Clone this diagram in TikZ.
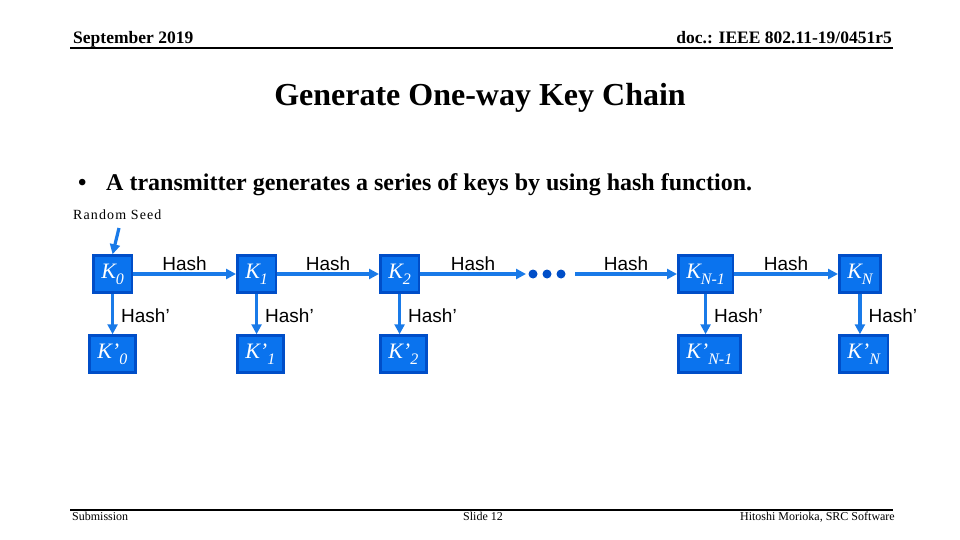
\documentclass[tikz,border=0pt]{standalone}
\usepackage{fontspec}
\setmainfont{Liberation Serif}
\newfontfamily\arialfont{Liberation Sans}
\usetikzlibrary{arrows.meta}
\definecolor{keyfill}{RGB}{10,115,238}
\definecolor{keyedge}{RGB}{0,78,200}
\definecolor{flow}{RGB}{25,122,232}
\tikzset{
  keybox/.style={draw=keyedge,line width=2.5pt,fill=keyfill,text=white,
    minimum height=37pt,inner xsep=8pt,inner ysep=0pt,anchor=west,
    font=\fontsize{22}{22}\selectfont\itshape},
  flowline/.style={draw=flow,line width=3.2pt,-{Triangle[length=10pt,width=10pt]}},
  hashlab/.style={font=\arialfont\fontsize{19}{19}\selectfont,inner sep=2pt},
  kdot/.style={circle,fill=keyedge,inner sep=0pt,minimum size=9pt}
}
\newcommand{\kk}[2]{K#1\raisebox{-6pt}{\fontsize{16}{16}\selectfont #2}}
\begin{document}
\begin{tikzpicture}[x=1pt,y=-1pt]
  \useasboundingbox (0,0) rectangle (960,540);
  % header and footer
  \draw[line width=1.2pt] (70,48) -- (893,48);
  \draw[line width=1.2pt] (70,510) -- (893,510);
  \node[anchor=base west,inner sep=0pt,font=\bfseries\fontsize{17.5}{17.5}\selectfont] (date) at (73,44) {September 2019};
  \node[anchor=base east,inner sep=0pt,font=\bfseries\fontsize{17.5}{17.5}\selectfont] (doc) at (892,44) {doc.: IEEE 802.11-19/0451r5};
  \node[anchor=base west,inner sep=0pt,font=\fontsize{12}{12}\selectfont] (sub) at (72,520) {Submission};
  \node[anchor=base,inner sep=0pt,font=\fontsize{12}{12}\selectfont] (slide) at (483,520) {Slide 12};
  \node[anchor=base east,inner sep=0pt,font=\fontsize{12}{12}\selectfont] (auth) at (895,520) {Hitoshi Morioka, SRC Software};
  % title and bullet
  \node[inner sep=0pt,font=\bfseries\fontsize{32}{32}\selectfont] (title) at (480,98) {Generate One-way Key Chain};
  \node[anchor=base west,inner sep=0pt,font=\bfseries\fontsize{24}{24}\selectfont] (bul) at (78,190) {\textbullet};
  \node[anchor=base west,inner sep=0pt,font=\bfseries\fontsize{24}{24}\selectfont] (txt) at (106,190) {A transmitter generates a series of keys by using hash function.};
  \node[anchor=base west,inner sep=0pt,font=\fontsize{14}{14}\selectfont\addfontfeature{LetterSpace=8}] (seed) at (73,219) {Random Seed};
  % keys
  \node[keybox] (k0) at (92,274) {\kk{}{0}};
  \node[keybox] (k1) at (236,274) {\kk{}{1}};
  \node[keybox] (k2) at (379,274) {\kk{}{2}};
  \node[keybox] (kn1) at (677,274) {\kk{}{N-1}};
  \node[keybox] (kn) at (838,274) {\kk{}{N}};
  \node[keybox] (kp0) at (88,354) {\kk{’}{0}};
  \node[keybox] (kp1) at (236,354) {\kk{’}{1}};
  \node[keybox] (kp2) at (379,354) {\kk{’}{2}};
  \node[keybox] (kpn1) at (677,354) {\kk{’}{N-1}};
  \node[keybox] (kpn) at (838,354) {\kk{’}{N}};
  % dots
  \node[kdot] (d1) at (533,274) {};
  \node[kdot] (d2) at (547,274) {};
  \node[kdot] (d3) at (561,274) {};
  \coordinate (dend) at (526,274);
  \coordinate (dstart) at (575,274);
  \coordinate (seedtop) at (119,228);
  % chain
  \draw[flowline] (seedtop) -- (k0.north);
  \draw[flowline] (k0) -- (k1) node[hashlab,pos=0.5,above]{Hash};
  \draw[flowline] (k1) -- (k2) node[hashlab,pos=0.5,above]{Hash};
  \draw[flowline] (k2) -- (dend) node[hashlab,pos=0.5,above]{Hash};
  \draw[flowline] (dstart) -- (kn1) node[hashlab,pos=0.5,above]{Hash};
  \draw[flowline] (kn1) -- (kn) node[hashlab,pos=0.5,above]{Hash};
  % one-way branches
  \foreach \a/\b in {k0/kp0,k1/kp1,k2/kp2,kn1/kpn1,kn/kpn}
    \draw[flowline] (\a.south) -- (\a.south |- \b.north) node[hashlab,pos=0.55,right,xshift=5pt]{Hash’};
\end{tikzpicture}
\end{document}
